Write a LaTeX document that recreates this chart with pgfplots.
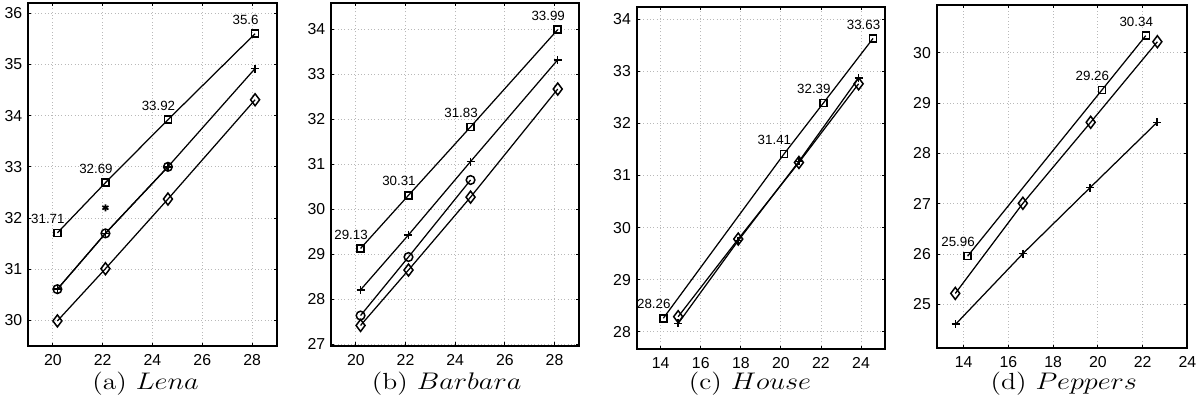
\documentclass[border=0pt]{standalone}
\usepackage{fontspec}
\usepackage{graphicx}
\usepackage{pgfplots}
\pgfplotsset{compat=1.18}
\newfontfamily\helv{Liberation Sans}
\pgfplotsset{
  myax/.style={
    scale only axis,
    anchor=south west,
    axis line style={line width=1.1pt},
    tick align=inside,
    major tick length=2pt,
    tick style={black, line width=0.5pt},
    xmajorgrids, ymajorgrids,
    grid style={gray!55, line width=0.5pt, dash pattern=on 0.6pt off 1.4pt},
    tick label style={font=\helv\fontsize{9.5}{11}\selectfont},
    /pgf/number format/assume math mode=true,
    xticklabel style={yshift=-1.5pt},
    clip=false,
  },
  sq/.style={black, line width=0.75pt, mark=square, mark size=2.1pt, mark options={solid, line width=0.9pt},
    nodes near coords, point meta=explicit symbolic,
    every node near coord/.style={anchor=center, xshift=-5.7pt, yshift=8.4pt, inner sep=0pt,
      font=\helv\fontsize{8}{9}\selectfont}},
  pl/.style={black, line width=0.75pt, mark=+, mark size=2.4pt, mark options={solid, line width=0.9pt}},
  ci/.style={black, line width=0.75pt, mark=o, mark size=2.6pt, mark options={solid, line width=0.9pt}},
  di/.style={black, line width=0.75pt, mark=diamond, mark size=3.6pt, mark options={solid, line width=0.9pt}},
  as/.style={black, only marks, mark=asterisk, mark size=2.1pt, mark options={solid, line width=1pt}},
}
\begin{document}
\begin{tikzpicture}
\path[use as bounding box] (0pt,0pt) rectangle (722.4pt,241.2pt);

% (a) Lena
\begin{axis}[myax, at={(16.8pt,33.6pt)}, width=149.4pt, height=205.8pt,
  xmin=19, xmax=29, ymin=29.5, ymax=36.2,
  xtick={20,22,...,28}, ytick={30,31,...,36}]
\addplot[sq] coordinates {(20.18,31.71)[31.71] (22.11,32.69)[32.69] (24.62,33.92)[33.92] (28.12,35.6)[35.6]};
\addplot[pl] coordinates {(20.18,30.61) (22.11,31.70) (24.62,33.00) (28.12,34.92)};
\addplot[ci] coordinates {(20.18,30.61) (22.11,31.70) (24.62,33.00)};
\addplot[as] coordinates {(22.11,32.20)};
\addplot[di] coordinates {(20.18,29.99) (22.11,31.01) (24.62,32.37) (28.12,34.31)};
\end{axis}

% (b) Barbara
\begin{axis}[myax, at={(198.6pt,33.78pt)}, width=149pt, height=205.6pt,
  xmin=19, xmax=29, ymin=26.97, ymax=34.58,
  xtick={20,22,...,28}, ytick={27,28,...,34}]
\addplot[sq] coordinates {(20.19,29.13)[29.13] (22.12,30.31)[30.31] (24.62,31.83)[31.83] (28.13,33.99)[33.99]};
\addplot[pl] coordinates {(20.19,28.21) (22.12,29.43) (24.62,31.06) (28.13,33.32)};
\addplot[ci] coordinates {(20.19,27.64) (22.12,28.94) (24.62,30.65)};
\addplot[di] coordinates {(20.19,27.42) (22.12,28.65) (24.62,30.27) (28.13,32.67)};
\end{axis}

% (c) House
\begin{axis}[myax, at={(382.02pt,31.8pt)}, width=149pt, height=205.4pt,
  xmin=12.8, xmax=25.2, ymin=27.67, ymax=34.24,
  xtick={14,16,...,24}, ytick={28,29,...,34}]
\addplot[sq] coordinates {(14.13,28.26)[28.26] (20.15,31.41)[31.41] (22.12,32.39)[32.39] (24.60,33.63)[33.63]};
\addplot[pl] coordinates {(14.87,28.16) (17.87,29.75) (20.90,31.27) (23.88,32.87)};
\addplot[di] coordinates {(14.87,28.29) (17.87,29.78) (20.90,31.25) (23.88,32.76)};
\end{axis}

% (d) Peppers
\begin{axis}[myax, at={(562.02pt,32.22pt)}, width=150.4pt, height=206pt,
  xmin=12.8, xmax=24, ymin=24.13, ymax=30.95,
  xtick={14,16,...,24}, ytick={25,26,...,30}]
\addplot[sq] coordinates {(14.18,25.96)[25.96] (20.18,29.26)[29.26] (22.14,30.34)[30.34]};
\addplot[di] coordinates {(13.63,25.22) (16.65,27.01) (19.68,28.62) (22.66,30.22)};
\addplot[pl] coordinates {(13.65,24.61) (16.65,26.01) (19.65,27.32) (22.65,28.62)};
\end{axis}

\node at (87.3pt,10.8pt) {\scalebox{1.18}[1]{\fontsize{14}{16}\selectfont (a)\ $Lena$}};
\node at (268.0pt,10.8pt) {\scalebox{1.18}[1]{\fontsize{14}{16}\selectfont (b)\ $Barbara$}};
\node at (450.0pt,10.8pt) {\scalebox{1.18}[1]{\fontsize{14}{16}\selectfont (c)\ $House$}};
\node at (638.3pt,10.8pt) {\scalebox{1.18}[1]{\fontsize{14}{16}\selectfont (d)\ $Peppers$}};
\end{tikzpicture}
\end{document}
